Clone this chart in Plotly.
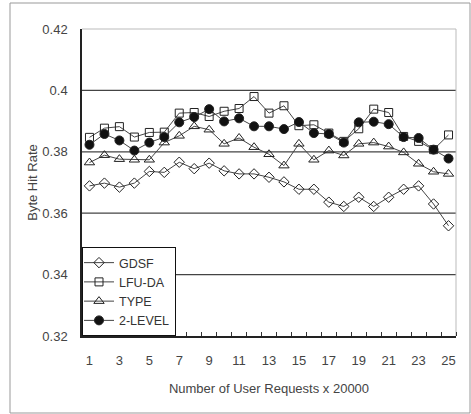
import plotly.graph_objects as go

# Number of user requests (in units of 20000)
requests = list(range(1, 26))

gdsf = [0.3689, 0.3698, 0.3685, 0.3698, 0.3736, 0.3733, 0.3766, 0.3745, 0.3763, 0.3738,
        0.3728, 0.3728, 0.3717, 0.3702, 0.3678, 0.3678, 0.3636, 0.3622, 0.3652, 0.3622,
        0.3652, 0.3678, 0.3689, 0.3630, 0.3559]
lfu_da = [0.3847, 0.3877, 0.3882, 0.3848, 0.3863, 0.3864, 0.3926, 0.3928, 0.3915, 0.3932,
          0.3941, 0.3980, 0.3926, 0.3950, 0.3885, 0.3888, 0.3861, 0.3834, 0.3875, 0.3939,
          0.3928, 0.3850, 0.3834, 0.3807, 0.3855]
type_ = [0.3765, 0.3789, 0.3776, 0.3774, 0.3774, 0.3830, 0.3852, 0.3883, 0.3872, 0.3826,
         0.3845, 0.3815, 0.3792, 0.3755, 0.3826, 0.3774, 0.3804, 0.3788, 0.3826, 0.3830,
         0.3817, 0.3798, 0.3761, 0.3735, 0.3728]
two_level = [0.3823, 0.3858, 0.3837, 0.3804, 0.3830, 0.3848, 0.3896, 0.3913, 0.3939, 0.3899,
             0.3909, 0.3883, 0.3883, 0.3874, 0.3897, 0.3861, 0.3858, 0.3830, 0.3896, 0.3898,
             0.3890, 0.3848, 0.3845, 0.3807, 0.3778]

y_ticks = [0.32, 0.34, 0.36, 0.38, 0.40, 0.42]
y_tick_text = ["0.32", "0.34", "0.36", "0.38", "0.4", "0.42"]
x_ticks = list(range(1, 26, 2))

FONT = "Liberation Sans, Arial, sans-serif"
INK = "#444444"

series = [
    ("GDSF", gdsf, "diamond-open", 8, False),
    ("LFU-DA", lfu_da, "square-open", 8, False),
    ("TYPE", type_, "triangle-up-open", 9, False),
    ("2-LEVEL", two_level, "circle", 9, True),
]

fig = go.Figure()
for name, vals, sym, size, filled in series:
    fig.add_trace(go.Scatter(
        x=requests, y=vals, name=name, mode="lines+markers",
        line=dict(color="#444444", width=1),
        marker=dict(symbol=sym, size=size, color="#111111" if filled else "#222222",
                    line=dict(color="#222222", width=1)),
    ))

# plot area is 374 x 307 px; offsets below are in paper units
PW, PH = 374.0, 307.0
shapes = []
# horizontal gridlines
for v in y_ticks[1:-1]:
    shapes.append(dict(type="line", xref="paper", yref="y", x0=0, x1=1, y0=v, y1=v,
                       line=dict(color="#444444", width=1.2), layer="below"))
# light top / right border of the plot area
shapes.append(dict(type="line", xref="paper", yref="paper", x0=0, x1=1, y0=1, y1=1,
                   line=dict(color="#bbbbbb", width=1), layer="below"))
shapes.append(dict(type="line", xref="paper", yref="paper", x0=1, x1=1, y0=0, y1=1,
                   line=dict(color="#bbbbbb", width=1), layer="below"))
# outer chart frame
shapes.append(dict(type="rect", xref="paper", yref="paper",
                   x0=-72 / PW, x1=1 + 14 / PW, y0=-77 / PH, y1=1 + 26 / PH,
                   line=dict(color="#999999", width=1), layer="below"))

fig.update_layout(
    width=471, height=414,
    margin=dict(l=82, r=15, t=29, b=78),
    paper_bgcolor="white", plot_bgcolor="white",
    font=dict(family=FONT, size=13, color=INK),
    showlegend=True,
    legend=dict(x=0, y=0, xanchor="left", yanchor="bottom",
                bgcolor="white", bordercolor="#111111", borderwidth=1,
                font=dict(family=FONT, size=12.5, color="#333333"),
                tracegroupgap=0, itemwidth=30, indentation=-4),
    shapes=shapes,
    xaxis=dict(
        range=[0.5, 25.5], tickmode="array", tickvals=x_ticks,
        ticks="", showgrid=False, zeroline=False,
        showline=True, linecolor="#222222", linewidth=1.5,
        tickfont=dict(family=FONT, size=13, color=INK),
        ticklabelstandoff=12,
        minor=dict(tickmode="linear", tick0=0.5, dtick=1, ticks="inside",
                   ticklen=4, tickcolor="#333333", showgrid=False),
        title=dict(text="Number of User Requests x 20000",
                   font=dict(family=FONT, size=13, color=INK), standoff=17),
    ),
    yaxis=dict(
        range=[0.32, 0.42], tickmode="array", tickvals=y_ticks, ticktext=y_tick_text,
        ticks="", showgrid=False, zeroline=False,
        showline=True, linecolor="#222222", linewidth=1.5,
        tickfont=dict(family=FONT, size=13, color=INK),
        ticklabelstandoff=10,
        title=dict(text="Byte Hit Rate",
                   font=dict(family=FONT, size=13, color=INK), standoff=2),
    ),
)

fig.write_html("out.html")
